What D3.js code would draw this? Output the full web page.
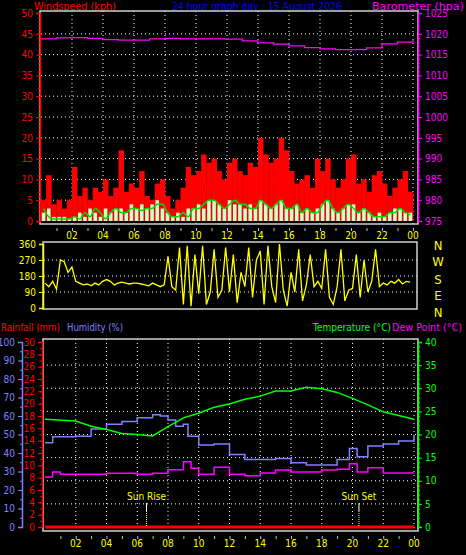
<!DOCTYPE html>
<html><head><meta charset="utf-8">
<script src="https://cdn.jsdelivr.net/npm/d3@7"></script>
<style>body{margin:0;background:#000}svg{display:block}text{font-family:"DejaVu Sans Condensed","DejaVu Sans",sans-serif;font-size:10px}</style>
</head><body><svg id="c" width="466" height="555"></svg>
<script>
const hourTicks=["02","04","06","08","10","12","14","16","18","20","22","00"];
const windGust=[5,11,4,5,3,5,13,6,8,5,8,7,10,6,8,17,7,9,8,12,6,5,9,10,6,3,5,8,13,11,12,16,14,15,12,10,14,15,12,11,14,13,20,16,14,15,20,17,12,9,10,11,8,15,12,15,10,8,10,15,16,9,10,7,11,12,9,6,8,10,12,7];
const windAvg=[2,3,1,1,1,0.5,1,2,1,3,2,1,3,2,3,3,2,4,3,4,3,4,5,3,2,1,2,1,3,3,4,3,5,5,4,3,5,4,4,3,4,3,5,4,3,4,5,3,3,4,2,3,2,3,4,5,3,2,3,4,4,2,3,2,1,2,1,2,3,3,2,2];
const windLine=[3,1,0.5,0.5,0.5,0.5,1,0.5,2,1,3,2,0.5,2,3,2,2,3,3,2.5,3,3,4,4,2,1,1,2,1,3,3,4,5,5,4,3,4,5,4,4,3,3,5,4,3,4,5,3,3,4,2,3,2,2,4,5,3,2,3,4,3,2,3,2,1,1,1,2,2,3,2,1.5];
const baro=[1018.8,1019.0,1019.1,1018.9,1018.6,1018.5,1018.5,1018.8,1018.9,1018.8,1018.8,1018.8,1018.7,1018.3,1017.8,1017.5,1017.1,1016.7,1016.4,1016.2,1016.2,1016.6,1017.6,1018.0,1018.5];
const windDir=[140,120,150,105,270,260,200,230,150,140,130,135,125,140,130,150,160,150,130,140,145,140,135,140,140,135,130,125,140,130,120,130,290,120,100,340,20,350,10,300,80,350,20,90,330,60,100,340,90,300,30,200,120,340,60,270,320,20,350,120,30,360,100,10,200,90,330,40,130,300,120,150,110,330,60,20,120,330,40,100,110,300,60,270,90,150,330,120,140,130,150,140,160,135,150,145];
const tempH=[0,2,3,4,5,6,7,8,9,10,11,12,13,14,15,16,17,18,19,20,21,22,23,24];
const temp=[23.3,22.9,21.8,21.1,20.2,20,19.7,21.7,23.6,24.6,25.9,26.6,27.6,28.3,29.4,29.4,30.2,29.9,29.1,27.8,26.4,24.9,24.1,23.3];
const humH=[0,0.5,2,3,4,5,6,7,7.5,8,8.5,9,9.3,10,11,12,13,14,15,16,17,18,19,19.8,20.3,21,22,23,24];
const hum=[45.6,48.8,49,53,55.5,57,59,60.7,60,57.9,54.4,55.6,49,44.3,44.8,39.2,36.5,36.5,37,34.7,33.5,33.5,36.5,42.5,38,43.8,44.8,46.5,49.2];
const dewH=[0,0.5,1,2,4,6,7,8,9,9.5,10,11,12,13,14,15,16,17,18,19,19.8,20.3,21,22,23,24];
const dew=[10.8,11.9,11.4,11.4,11.6,11.4,11.6,12.4,14.1,12.7,11.4,12.9,11.4,11.1,11.7,12.3,11.9,11.9,12.3,12.5,13.7,11.9,12.8,11.7,11.7,11.7];
const rainfall=[0,0];
const sunRise=6.6, sunSet=20.42;

const svg=d3.select("#c");
const grid="#ffffff";
function txt(x,y,s,c,a,len){const t=svg.append("text").attr("x",x).attr("y",y).attr("fill",c).attr("text-anchor",a||"start").style("font-size","11px").text(s);
 if(len)t.attr("textLength",len).attr("lengthAdjust","spacingAndGlyphs");return t;}
function vgrid(x,y0,y1){hourTicks.forEach((t,i)=>{svg.append("line").attr("x1",x(2*(i+1))).attr("x2",x(2*(i+1))).attr("y1",y0).attr("y2",y1).attr("stroke",grid).attr("stroke-dasharray","1,3");});}
function xlabels(x,y){hourTicks.forEach((t,i)=>svg.append("text").attr("x",x(2*(i+1))).attr("y",y).attr("fill","#ffff00").attr("text-anchor","middle").text(t));
 svg.append("g").attr("transform",`translate(0,${y-11})`).call(d3.axisBottom(x).tickValues(d3.range(1,25)).tickSize(3).tickFormat("")).call(g=>{g.select(".domain").remove();g.selectAll("line").attr("stroke","#c0c0c0");});}
function box(x0,y0,x1,y1){svg.append("rect").attr("x",x0).attr("y",y0).attr("width",x1-x0).attr("height",y1-y0).attr("fill","none").attr("stroke","#d0d0d0").attr("stroke-width",1.5);}
function yax(scale,x,vals,col,side,minor){
 const g=svg.append("g").attr("transform",`translate(${x},0)`);
 const ax=side==="left"?d3.axisLeft(scale):d3.axisRight(scale);
 g.call(ax.tickValues(vals).tickSize(4).tickPadding(3).tickFormat(d3.format("d")));
 g.selectAll("text").attr("fill",col).style("font-size","10px").attr("font-family","DejaVu Sans Condensed");
 g.selectAll("line").attr("stroke",col);g.select(".domain").attr("stroke",col).attr("stroke-width",1.5);
 if(minor){const m=svg.append("g").attr("transform",`translate(${x},0)`);m.call((side==="left"?d3.axisLeft(scale):d3.axisRight(scale)).tickValues(minor).tickSize(2).tickFormat(""));m.selectAll("line").attr("stroke",col);m.select(".domain").remove();}
}

// ---- Top panel
const x1=d3.scaleLinear().domain([0,24]).range([41,413]);
const yW=d3.scaleLinear().domain([0,50]).range([221,13]);
const yB=d3.scaleLinear().domain([975,1025]).range([221,13]);
txt(34,10,"Windspeed (kph)","#ff0000","start",82);
txt(172,10,"24 hour graph day : 15 August 2026","#0000ff","start",170);
txt(372,10,"Barometer (hpa)","#ff00ff","start",92);
d3.range(5,50,5).forEach(v=>svg.append("line").attr("x1",41).attr("x2",418).attr("y1",yW(v)).attr("y2",yW(v)).attr("stroke",grid).attr("stroke-dasharray","1,3"));
vgrid(x1,11,224);
const bw=(x1(24)-x1(0))/windGust.length;
svg.append("g").selectAll("rect").data(windGust).join("rect").attr("x",(d,i)=>x1(i*24/windGust.length)).attr("width",bw+0.3).attr("y",d=>yW(d)).attr("height",d=>yW(0)-yW(d)).attr("fill","#ff0000");
svg.append("g").selectAll("rect").data(windAvg).join("rect").attr("x",(d,i)=>x1(i*24/windAvg.length)+0.8).attr("width",bw-1.6).attr("y",d=>yW(d)).attr("height",d=>yW(0)-yW(d)).attr("fill","#ccffcc");
svg.append("path").datum(windLine).attr("d",d3.line().x((d,i)=>x1((i+0.5)*24/windLine.length)).y(d=>yW(d)).curve(d3.curveMonotoneX)).attr("fill","none").attr("stroke","#00dd00").attr("stroke-width",1.5);
svg.append("path").datum(baro).attr("d",d3.line().x((d,i)=>x1(i)).y(d=>yB(d)).curve(d3.curveStepAfter)).attr("fill","none").attr("stroke","#ff00ff").attr("stroke-width",1.3);
box(40,11,418,224);
yax(yW,40,d3.range(0,51,5),"#ff0000","left",d3.range(0,51,1));
yax(yB,418,d3.range(975,1026,5),"#ff00ff","right",d3.range(975,1026,1));
xlabels(x1,239);

// ---- Direction panel
const x2=d3.scaleLinear().domain([0,24]).range([45,414]);
const yD=d3.scaleLinear().domain([0,360]).range([308,244]);
[90,180,270].forEach(v=>svg.append("line").attr("x1",44).attr("x2",417).attr("y1",yD(v)).attr("y2",yD(v)).attr("stroke",grid).attr("stroke-dasharray","1,3"));
svg.append("path").datum(windDir).attr("d",d3.line().x((d,i)=>x2(i*24/windDir.length)).y(d=>yD(d))).attr("fill","none").attr("stroke","#ffff00").attr("stroke-width",1.3);
box(43,242,417,309);
yax(yD,43,[0,90,180,270,360],"#ffff00","left");
["N","W","S","E","N"].forEach((s,i)=>svg.append("text").attr("x",438).attr("y",[250,266,284,300,317][i]).attr("fill","#ffff00").attr("text-anchor","middle").style("font-size","13px").text(s));

// ---- Bottom panel
const x3=d3.scaleLinear().domain([0,24]).range([45,414]);
const yH=d3.scaleLinear().domain([0,100]).range([527,342]);
const yR=d3.scaleLinear().domain([0,30]).range([527,342]);
const yT=d3.scaleLinear().domain([0,40]).range([527,342]);
txt(1,331,"Rainfall (mm)","#ff0000","start",59);txt(67,331,"Humidity (%)","#8080ff","start",56);
txt(313,331,"Temperature (°C)","#00ff00","start",78);txt(392,331,"Dew Point (°C)","#ff00ff","start",70);
d3.range(5,40,5).forEach(v=>svg.append("line").attr("x1",43).attr("x2",418).attr("y1",yT(v)).attr("y2",yT(v)).attr("stroke",grid).attr("stroke-dasharray","1,3"));
vgrid(x3,339,531);
svg.append("path").datum(hum).attr("d",d3.line().x((d,i)=>x3(humH[i])).y(d=>yH(d)).curve(d3.curveStepAfter)).attr("fill","none").attr("stroke","#8080ff").attr("stroke-width",1.5);
svg.append("path").datum(temp).attr("d",d3.line().x((d,i)=>x3(tempH[i])).y(d=>yT(d))).attr("fill","none").attr("stroke","#00ff00").attr("stroke-width",1.5);
svg.append("path").datum(dew).attr("d",d3.line().x((d,i)=>x3(dewH[i])).y(d=>yT(d)).curve(d3.curveStepAfter)).attr("fill","none").attr("stroke","#ff00ff").attr("stroke-width",1.5);
svg.append("path").datum(rainfall).attr("d",d3.line().x((d,i)=>x3(i*24)).y(d=>yR(d))).attr("stroke","#ff0000").attr("stroke-width",3);
[[sunRise,"Sun Rise"],[sunSet,"Sun Set"]].forEach(([h,s])=>{const x=x3(h);
 svg.append("text").attr("x",x).attr("y",500).attr("fill","#ffff00").attr("text-anchor","middle").text(s);
 svg.append("line").attr("x1",x).attr("x2",x).attr("y1",503).attr("y2",511).attr("stroke","#fff");
 svg.append("line").attr("x1",x).attr("x2",x).attr("y1",511).attr("y2",527).attr("stroke","#ffff00").attr("stroke-dasharray","1,1");});
box(43,339,418,531);
yax(yH,22,d3.range(0,101,10),"#8080ff","left",d3.range(0,101,5));
yax(yR,42,d3.range(0,31,2),"#ff0000","left",d3.range(0,31,1));
yax(yT,418,d3.range(0,41,5),"#00ff00","right",d3.range(0,41,1));
xlabels(x3,547);
</script></body></html>
